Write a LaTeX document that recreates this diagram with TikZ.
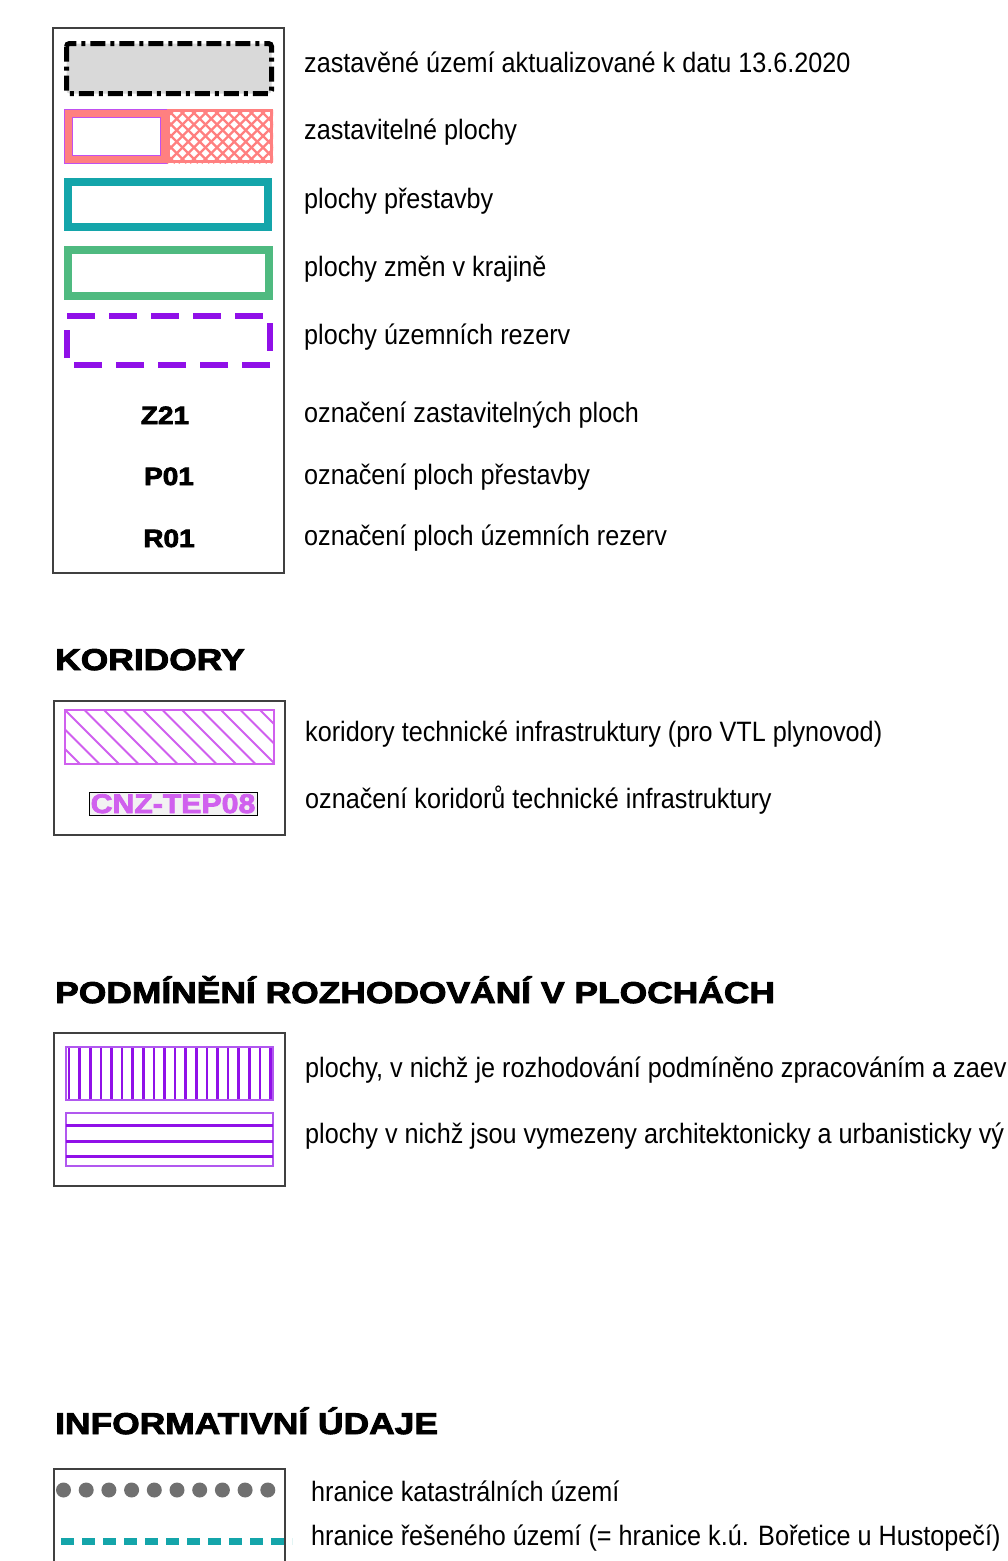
\documentclass[tikz,border=0pt]{standalone}
\usepackage{fontspec}
\setmainfont{Liberation Sans}[FakeStretch=0.90]
\newfontfamily\headfont{Liberation Sans}[FakeStretch=1.18,FakeBold=3]
\newfontfamily\codefont{Liberation Sans}[FakeStretch=1.12,FakeBold=3]
\definecolor{fillgray}{HTML}{D9D9D9}
\definecolor{salmon}{HTML}{FF8080}
\definecolor{pinkline}{HTML}{C050F0}
\definecolor{teal}{HTML}{14A5AA}
\definecolor{green}{HTML}{4FBA80}
\definecolor{violet}{HTML}{9010E8}
\definecolor{magent}{HTML}{D060EE}
\definecolor{dotgray}{HTML}{707070}
\definecolor{codebg}{HTML}{F2F2F2}
\begin{document}
\begin{tikzpicture}[x=1pt,y=-1pt,
  lbl/.style={anchor=base west,inner sep=0,font=\fontsize{28}{30}\selectfont},
  head/.style={anchor=base west,inner sep=0,font=\headfont\bfseries\fontsize{30}{32}\selectfont},
  code/.style={anchor=base,inner sep=0,font=\codefont\bfseries\fontsize{25}{27}\selectfont},
  frame/.style={draw=black!75,line width=1.5}]
\useasboundingbox (0,0) rectangle (1008,1561);
% ---------- box 1
\draw[frame] (53,28) rectangle (284,573);
% built-up area
\draw[fill=fillgray,line width=5,rounded corners=3,dash pattern=on 15 off 5 on 4 off 5] (66.5,43.5) rectangle (271.5,93.5);
% zastavitelne plochy
\fill[salmon] (64,109) rectangle (167,163);
\draw[pinkline,line width=0.8] (64,109) rectangle (167,163);
\draw[pinkline,line width=0.8,fill=white] (72,117) rectangle (160,155);
\begin{scope}
\clip (167,109) rectangle (273,163);
\fill[white] (167,109) rectangle (273,163);
\foreach \i in {-6,...,11}{
  \draw[salmon,line width=2.2] (167+\i*11.5,109) -- ++(54,54);
  \draw[salmon,line width=2.2] (167+\i*11.5,163) -- ++(54,-54);
}
\end{scope}
\draw[salmon,line width=3] (168.5,110.5) rectangle (271.5,161.5);
% prestavby
\draw[teal,line width=8] (68,182) rectangle (268,227);
% zmeny v krajine
\draw[green,line width=8] (68,250) rectangle (269,296);
% rezervy
\draw[violet,line width=6,dash pattern=on 28 off 14] (67,316) -- (270,316) -- (270,365) -- (67,365) -- cycle;
% codes
\node[code] (z21) at (165,424) {Z21};
\node[code] (p01) at (169,485) {P01};
\node[code] (r01) at (169,547) {R01};
% labels
\node[lbl] (t1) at (304,72) {zastavěné území aktualizované k datu 13.6.2020};
\node[lbl] (t2) at (304,139) {zastavitelné plochy};
\node[lbl] (t3) at (304,208) {plochy přestavby};
\node[lbl] (t4) at (304,276) {plochy změn v krajině};
\node[lbl] (t5) at (304,344) {plochy územních rezerv};
\node[lbl] (t6) at (304,422) {označení zastavitelných ploch};
\node[lbl] (t7) at (304,484) {označení ploch přestavby};
\node[lbl] (t8) at (304,545) {označení ploch územních rezerv};
% ---------- KORIDORY
\node[head] (h1) at (55,670) {KORIDORY};
\draw[frame] (54,701) rectangle (285,835);
\begin{scope}
\clip (65,710) rectangle (274,764);
\foreach \i in {-3,...,11}{
  \draw[magent,line width=2] (65+\i*19.5,710) -- ++(60,60);
}
\end{scope}
\draw[magent,line width=2.2] (65,710) rectangle (274,764);
\draw[black,line width=1,fill=codebg] (89,792) rectangle (257,815);
\node[anchor=base,inner sep=0,font=\codefont\bfseries\fontsize{27}{29}\selectfont,text=magent] (cnz) at (173,813) {CNZ-TEP08};
\node[lbl] (k1) at (305,741) {koridory technické infrastruktury (pro VTL plynovod)};
\node[lbl] (k2) at (305,808) {označení koridorů technické infrastruktury};
% ---------- PODMINENI
\node[head] (h2) at (55,1003) {PODMÍNĚNÍ ROZHODOVÁNÍ V PLOCHÁCH};
\draw[frame] (54,1033) rectangle (285,1186);
\begin{scope}
\clip (65,1046) rectangle (273,1100);
\foreach \i in {0,...,19}{
  \draw[violet,line width=2.6] (69+\i*10.6,1046) -- ++(0,54);
}
\end{scope}
\draw[violet!70,line width=2] (66,1047) rectangle (273,1100);
\draw[violet!70,line width=2] (66,1113) rectangle (273,1166);
\foreach \yy in {1125,1141,1156}{
  \draw[violet,line width=3] (66,\yy) -- (273,\yy);
}
\node[lbl] (p1) at (305,1077) {plochy, v nichž je rozhodování podmíněno zpracováním a zaev};
\node[lbl] (p2) at (305,1143) {plochy v nichž jsou vymezeny architektonicky a urbanisticky vý};
% ---------- INFORMATIVNI
\node[head] (h3) at (55,1434) {INFORMATIVNÍ ÚDAJE};
\draw[frame] (54,1561) -- (54,1469) -- (285,1469) -- (285,1561);
\foreach \i in {0,...,9}{
  \fill[dotgray] (63.5+\i*22.7,1490) circle (7.5);
}
\draw[teal,line width=7,dash pattern=on 13 off 8] (61,1541) -- (292,1541);
\node[lbl] (i1) at (311,1501) {hranice katastrálních území};
\node[lbl] (i2) at (311,1545) {hranice řešeného území (= hranice k.ú. Bořetice u Hustopečí)};
\end{tikzpicture}
\end{document}
